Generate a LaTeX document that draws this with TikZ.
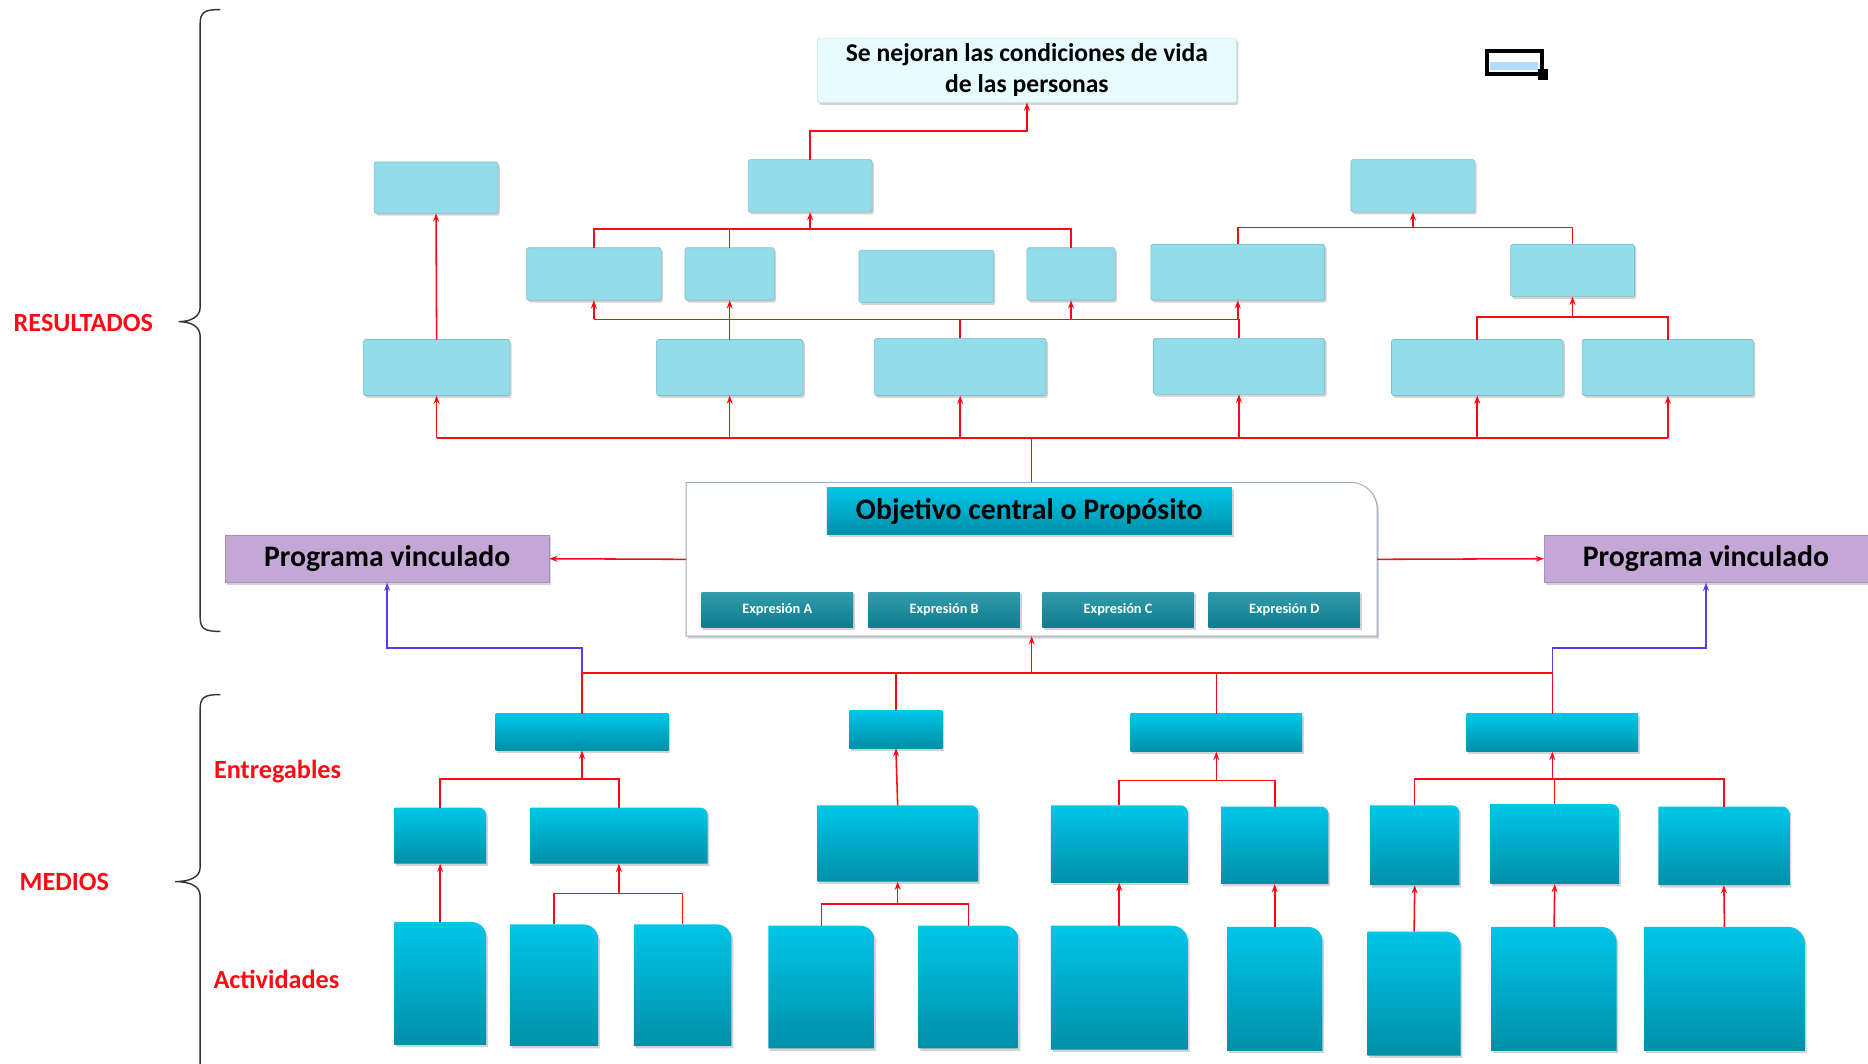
\documentclass[tikz,border=0pt]{standalone}
\usepackage{fontspec}
\setmainfont{Carlito}
\usetikzlibrary{arrows.meta}
\usetikzlibrary{positioning}
\usetikzlibrary{shadows}

\definecolor{celeste}{HTML}{93DDEB}
\definecolor{cielo}{HTML}{E6FCFF}
\definecolor{cianA}{HTML}{00C6E8}
\definecolor{cianB}{HTML}{008FA8}
\definecolor{petroleo}{HTML}{0E8A9E}
\definecolor{lila}{HTML}{C4A7D7}
\definecolor{rojo}{HTML}{FF0A14}
\definecolor{azulv}{HTML}{5A3CF0}
\definecolor{bordegris}{HTML}{9CA9BF}
\definecolor{barrita}{HTML}{B3DBFF}

\begin{document}
\begin{tikzpicture}
	[x=1pt,y=-1pt,every node/.style={inner sep=0pt,outer sep=0pt},
	sombra/.style={drop shadow={shadow xshift=1.5pt,shadow yshift=-2pt,opacity=.35}},
	res/.style={fill=celeste,draw=celeste!85!black,line width=.5pt,rounded corners=1.5pt,sombra},
	ent/.style={top color=cianA,bottom color=cianB,sombra},
	prog/.style={fill=lila,draw=lila!85!black,line width=.5pt,sombra,minimum width=272,minimum height=40,font=\bfseries\fontsize{25}{28}\selectfont},
	expr/.style={top color=petroleo!85!white,bottom color=petroleo!90!black,sombra,text=white,minimum width=127,minimum height=30,font=\bfseries\fontsize{12}{14}\selectfont},
	etiq/.style={text=rojo,font=\bfseries\fontsize{22}{26}\selectfont},
	linea/.style={draw=rojo,line width=1.3pt},
	flecha/.style={linea,-{Stealth[length=7pt,width=5pt]}},
	azul/.style={draw=azulv,line width=1.3pt,-{Stealth[length=7pt,width=5pt]}}]
	\useasboundingbox (0,0) rectangle (1568,893);

	% llaves y etiquetas
	\draw[gray!40!black,line width=1.2pt] (185,8) .. controls (172,8) and (168,10) .. (168,20) -- (168,258)
		.. controls (168,266) and (160,270) .. (150,270) .. controls (160,270) and (168,274) .. (168,282)
		-- (168,518) .. controls (168,528) and (172,530) .. (185,530);
	\draw[gray!40!black,line width=1.2pt] (185,583) .. controls (172,583) and (168,585) .. (168,595) -- (168,728)
		.. controls (168,736) and (160,740) .. (147,740) .. controls (160,740) and (168,744) .. (168,752)
		-- (168,897);
	\node[etiq] (resultados) at (70,271) {RESULTADOS};
	\node[etiq] (medios) at (54,740) {MEDIOS};
	\node[etiq] (entregables) at (233,648) {Entregables};
	\node[etiq] (actividades) at (232,822) {Actividades};

	\node[draw=black,line width=3.5pt,minimum width=46,minimum height=19] (icono) at (1271,52.5) {};
	\fill[barrita] (1251,52) rectangle (1291,59);
	\fill[black] (1291,58) rectangle (1299,67);

	% resultados
	\node[fill=cielo,draw=cielo!80!gray,line width=.5pt,rounded corners=1.5pt,sombra,minimum width=352,minimum height=54,
		align=center,font=\bfseries\fontsize{21.5}{26}\selectfont] (meta) at (862,59) {Se nejoran las condiciones de vida\\de las personas};
	\node[res,minimum width=104,minimum height=43] (a1) at (366,157.5) {};
	\node[res,minimum width=104,minimum height=44] (a2) at (680,156) {};
	\node[res,minimum width=104,minimum height=44] (a3) at (1186,156) {};
	\node[res,minimum width=113,minimum height=44] (b1) at (498.5,230) {};
	\node[res,minimum width=75,minimum height=44] (b2) at (612.5,230) {};
	\node[res,minimum width=113,minimum height=44] (b3) at (777.5,232) {};
	\node[res,minimum width=74,minimum height=44] (b4) at (899,230) {};
	\node[res,minimum width=146,minimum height=47] (b5) at (1039,228.5) {};
	\node[res,minimum width=104,minimum height=44] (b6) at (1320,227) {};
	\node[res,minimum width=123,minimum height=47] (c1) at (366.5,308.5) {};
	\node[res,minimum width=123,minimum height=47] (c2) at (612.5,308.5) {};
	\node[res,minimum width=144,minimum height=48] (c3) at (806,308) {};
	\node[res,minimum width=144,minimum height=47] (c4) at (1040,307.5) {};
	\node[res,minimum width=144,minimum height=47] (c5) at (1240,308.5) {};
	\node[res,minimum width=144,minimum height=47] (c6) at (1400,308.5) {};

	% proposito
	\node[minimum width=580,minimum height=129] (prop) at (866,469.5) {};
	\draw[draw=bordegris,fill=white,line width=.8pt,sombra] (prop.south west) -- (prop.north west)
		[rounded corners=22pt] -- (prop.north east) [sharp corners] -- (prop.south east) -- cycle;
	\node[ent,minimum width=340,minimum height=40,font=\bfseries\fontsize{25}{28}\selectfont] (obj) at (864,429) {Objetivo central o Propósito};
	\node[expr] (xa) at (652.5,512) {Expresión A};
	\node[expr] (xb) at (792.5,512) {Expresión B};
	\node[expr] (xc) at (938.5,512) {Expresión C};
	\node[expr] (xd) at (1078,512) {Expresión D};
	\node[prog] (prog1) at (325,469) {Programa vinculado};
	\node[prog] (prog2) at (1432,469) {Programa vinculado};

	% medios
	\node[ent,minimum width=145,minimum height=31] (e1) at (488.5,614.5) {};
	\node[ent,minimum width=78,minimum height=32] (e2) at (752,612) {};
	\node[ent,minimum width=144,minimum height=32] (e3) at (1021,615) {};
	\node[ent,minimum width=144,minimum height=32] (e4) at (1303,615) {};
	\node[minimum width=77,minimum height=47] (f1) at (369.5,701.5) {};
	\node[minimum width=149,minimum height=47] (f2) at (519.5,701.5) {};
	\node[minimum width=135,minimum height=64] (f3) at (753.5,708) {};
	\node[minimum width=115,minimum height=65] (f4) at (939.5,708.5) {};
	\node[minimum width=90,minimum height=65] (f5) at (1070,709.5) {};
	\node[minimum width=75,minimum height=67] (f6) at (1187.5,709.5) {};
	\node[minimum width=108,minimum height=67] (f7) at (1305,708.5) {};
	\node[minimum width=110,minimum height=66] (f8) at (1447,710) {};
	\node[minimum width=77,minimum height=103] (g1) at (369.5,825.5) {};
	\node[minimum width=74,minimum height=102] (g2) at (465,827) {};
	\node[minimum width=82,minimum height=102] (g3) at (573,827) {};
	\node[minimum width=89,minimum height=103] (g4) at (689.5,828.5) {};
	\node[minimum width=84,minimum height=103] (g5) at (813,828.5) {};
	\node[minimum width=115,minimum height=104] (g6) at (939.5,829) {};
	\node[minimum width=80,minimum height=104] (g7) at (1070,830) {};
	\node[minimum width=78,minimum height=104] (g8) at (1187,834) {};
	\node[minimum width=105,minimum height=104] (g9) at (1304.5,830) {};
	\node[minimum width=135,minimum height=104] (g10) at (1447.5,830) {};
	\foreach \n/\r in {f1/6,f2/6,f3/6,f4/6,f5/6,f6/6,f7/6,f8/6,g1/12,g2/12,g3/12,g4/12,g5/12,g6/13,g7/12,g8/12,g9/13,g10/14}
		\shade[top color=cianA,bottom color=cianB,sombra] (\n.south west) -- (\n.north west)
			[rounded corners=\r pt] -- (\n.north east) [sharp corners] -- (\n.south east) -- cycle;

	% conectores
	\coordinate (j1) at (680,192);
	\coordinate (j2) at (806,268);
	\coordinate (j3) at (1186,191);
	\coordinate (j4) at (1320,266);
	\coordinate (j5) at (866,368);
	\coordinate (j6) at (866,565);
	\coordinate (j7) at (488.5,654);
	\coordinate (j9) at (1021,655);
	\coordinate (j10) at (1303,654);
	\coordinate (j11) at (519.5,750);
	\coordinate (j12) at (753.5,759);

	\draw[azul] (e1.north) -- ++(0,-55) -| (prog1.south);
	\draw[azul] (e4.north) -- ++(0,-55) -| (prog2.south);

	\draw[flecha] (a2.north) -- ++(0,-24) -| (meta.south);
	\draw[flecha] (c1.north) -- (a1.south);
	\draw[linea] (b1.south |- j2) -- (b5.south |- j2);
	\draw[linea,line width=1.7pt] (c1.south |- j5) -- (c6.south |- j5);
	\draw[linea] (prop.north) -- (j5);
	\draw[linea,line width=1.7pt] (e1.north |- j6) -- (e4.north |- j6);
	\draw[flecha] (j6) -- (prop.south);
	\draw[flecha] (prop.west) -- (prog1.east);
	\draw[flecha] (prop.east) -- (prog2.west);

	\foreach \from/\to in {b1/j1,b2/j1,b4/j1,b5/j3,b6/j3,c5/j4,c6/j4,f1/j7,f2/j7,f4/j9,f5/j9,f6/j10,f7/j10,f8/j10,g2/j11,g3/j11,g4/j12,g5/j12}
		\draw[linea] (\from.north) |- (\to);
	\foreach \from/\to in {j1/a2,j3/a3,j4/b6,j7/e1,j9/e3,j10/e4,j11/f2,j12/f3}
		\draw[flecha] (\from) -- (\to.south);
	\foreach \from/\to in {f3/e2,g1/f1,g6/f4,g7/f5,g8/f6,g9/f7,g10/f8}
		\draw[flecha] (\from.north) -- (\to.south);
	\foreach \n in {c2,c3,c4}
		\draw[linea] (\n.north) -- (\n.north |- j2);
	\foreach \n in {b1,b2,b4,b5}
		\draw[flecha] (\n.south |- j2) -- (\n.south);
	\foreach \n in {c1,c2,c3,c4,c5,c6}
		\draw[flecha] (\n.south |- j5) -- (\n.south);
	\foreach \n in {e1,e2,e3,e4}
		\draw[linea] (\n.north) -- (\n.north |- j6);
\end{tikzpicture}
\end{document}
